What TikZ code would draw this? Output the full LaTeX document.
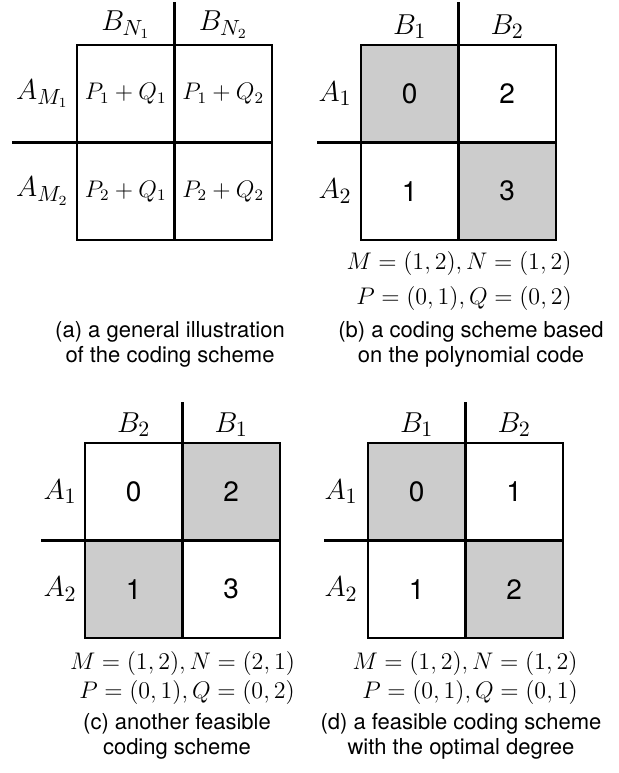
\documentclass[tikz,border=0pt]{standalone}
\usepackage{amsmath,amssymb}
\usepackage{fontspec}
\setsansfont{TeX Gyre Heros}
\usepackage{tikz}
\usetikzlibrary{positioning}
\definecolor{cellgray}{gray}{0.8}

\begin{document}
\begin{tikzpicture}[x=0.5pt, y=-0.5pt,
    cell/.style={draw, line width=1.1pt, minimum size=48.75pt, inner sep=0pt, outer sep=0pt, font=\fontsize{14}{16}\selectfont\sffamily},
    shaded/.style={cell, fill=cellgray},
    lab/.style={inner sep=0pt, font=\fontsize{15}{17}\selectfont},
    divider/.style={line width=1.1pt},
    note/.style={inner sep=0pt, font=\fontsize{12}{14}\selectfont},
    capt/.style={inner sep=0pt, align=center, font=\fontsize{11}{12.5}\selectfont\sffamily}]
    \useasboundingbox (0,0) rectangle (619,773);

    % (a) general illustration
    \node[cell, anchor=north west, font=\fontsize{11.5}{13}\selectfont] (a11) at (77,45) {$P_1+Q_1$};
    \node[cell, right=0pt of a11, font=\fontsize{11.5}{13}\selectfont] (a12) {$P_1+Q_2$};
    \node[cell, below=0pt of a11, font=\fontsize{11.5}{13}\selectfont] (a21) {$P_2+Q_1$};
    \node[cell, right=0pt of a21, font=\fontsize{11.5}{13}\selectfont] (a22) {$P_2+Q_2$};
    \node[lab, above=3pt of a11] (aB1) {$B_{N_1}$};
    \node[lab, above=3pt of a12] (aB2) {$B_{N_2}$};
    \node[lab, left=4pt of a11] (aA1) {$A_{M_1}$};
    \node[lab, left=4pt of a21] (aA2) {$A_{M_2}$};
    \coordinate (atop) at (174.5,2);
    \coordinate (aleft) at (12,142.5);
    \draw[divider] (atop) -- (a11.north east);
    \draw[divider] (aleft) -- (a21.north west);
    \node[capt] (acap) at (170,344) {(a) a general illustration\\of the coding scheme};

    % (b) polynomial code
    \node[shaded, anchor=north west] (b11) at (361,45) {0};
    \node[cell, right=0pt of b11] (b12) {2};
    \node[cell, below=0pt of b11] (b21) {1};
    \node[shaded, right=0pt of b21] (b22) {3};
    \node[lab, above=3pt of b11] (bB1) {$B_1$};
    \node[lab, above=3pt of b12] (bB2) {$B_2$};
    \node[lab, left=4.5pt of b11] (bA1) {$A_1$};
    \node[lab, left=4.5pt of b21] (bA2) {$A_2$};
    \coordinate (btop) at (458.5,2);
    \coordinate (bleft) at (317,142.5);
    \draw[divider] (btop) -- (b11.north east);
    \draw[divider] (bleft) -- (b21.north west);
    \node[note] (bMN) at (459,263) {$M=(1,2), N=(1,2)$};
    \node[note] (bPQ) at (464,298) {$P=(0,1), Q=(0,2)$};
    \node[capt] (bcap) at (471,344) {(b) a coding scheme based\\on the polynomial code};

    % (c) another feasible scheme
    \node[cell, anchor=north west] (c11) at (85,443) {0};
    \node[shaded, right=0pt of c11] (c12) {2};
    \node[shaded, below=0pt of c11] (c21) {1};
    \node[cell, right=0pt of c21] (c22) {3};
    \node[lab, above=3pt of c11] (cB2) {$B_2$};
    \node[lab, above=3pt of c12] (cB1) {$B_1$};
    \node[lab, left=4pt of c11] (cA1) {$A_1$};
    \node[lab, left=4pt of c21] (cA2) {$A_2$};
    \coordinate (ctop) at (182.5,402);
    \coordinate (cleft) at (41,540.5);
    \draw[divider] (ctop) -- (c11.north east);
    \draw[divider] (cleft) -- (c21.north west);
    \node[note] (cMN) at (182.5,663) {$M=(1,2), N=(2,1)$};
    \node[note] (cPQ) at (187,692) {$P=(0,1), Q=(0,2)$};
    \node[capt] (ccap) at (177,736) {(c) another feasible\\coding scheme};

    % (d) optimal degree
    \node[shaded, anchor=north west] (d11) at (368,443) {0};
    \node[cell, right=0pt of d11] (d12) {1};
    \node[cell, below=0pt of d11] (d21) {1};
    \node[shaded, right=0pt of d21] (d22) {2};
    \node[lab, above=3pt of d11] (dB1) {$B_1$};
    \node[lab, above=3pt of d12] (dB2) {$B_2$};
    \node[lab, left=5pt of d11] (dA1) {$A_1$};
    \node[lab, left=5pt of d21] (dA2) {$A_2$};
    \coordinate (dtop) at (465.5,402);
    \coordinate (dleft) at (324,540.5);
    \draw[divider] (dtop) -- (d11.north east);
    \draw[divider] (dleft) -- (d21.north west);
    \node[note] (dMN) at (465,663) {$M=(1,2), N=(1,2)$};
    \node[note] (dPQ) at (470,692) {$P=(0,1), Q=(0,1)$};
    \node[capt] (dcap) at (461,736) {(d) a feasible coding scheme\\with the optimal degree};
\end{tikzpicture}
\end{document}
